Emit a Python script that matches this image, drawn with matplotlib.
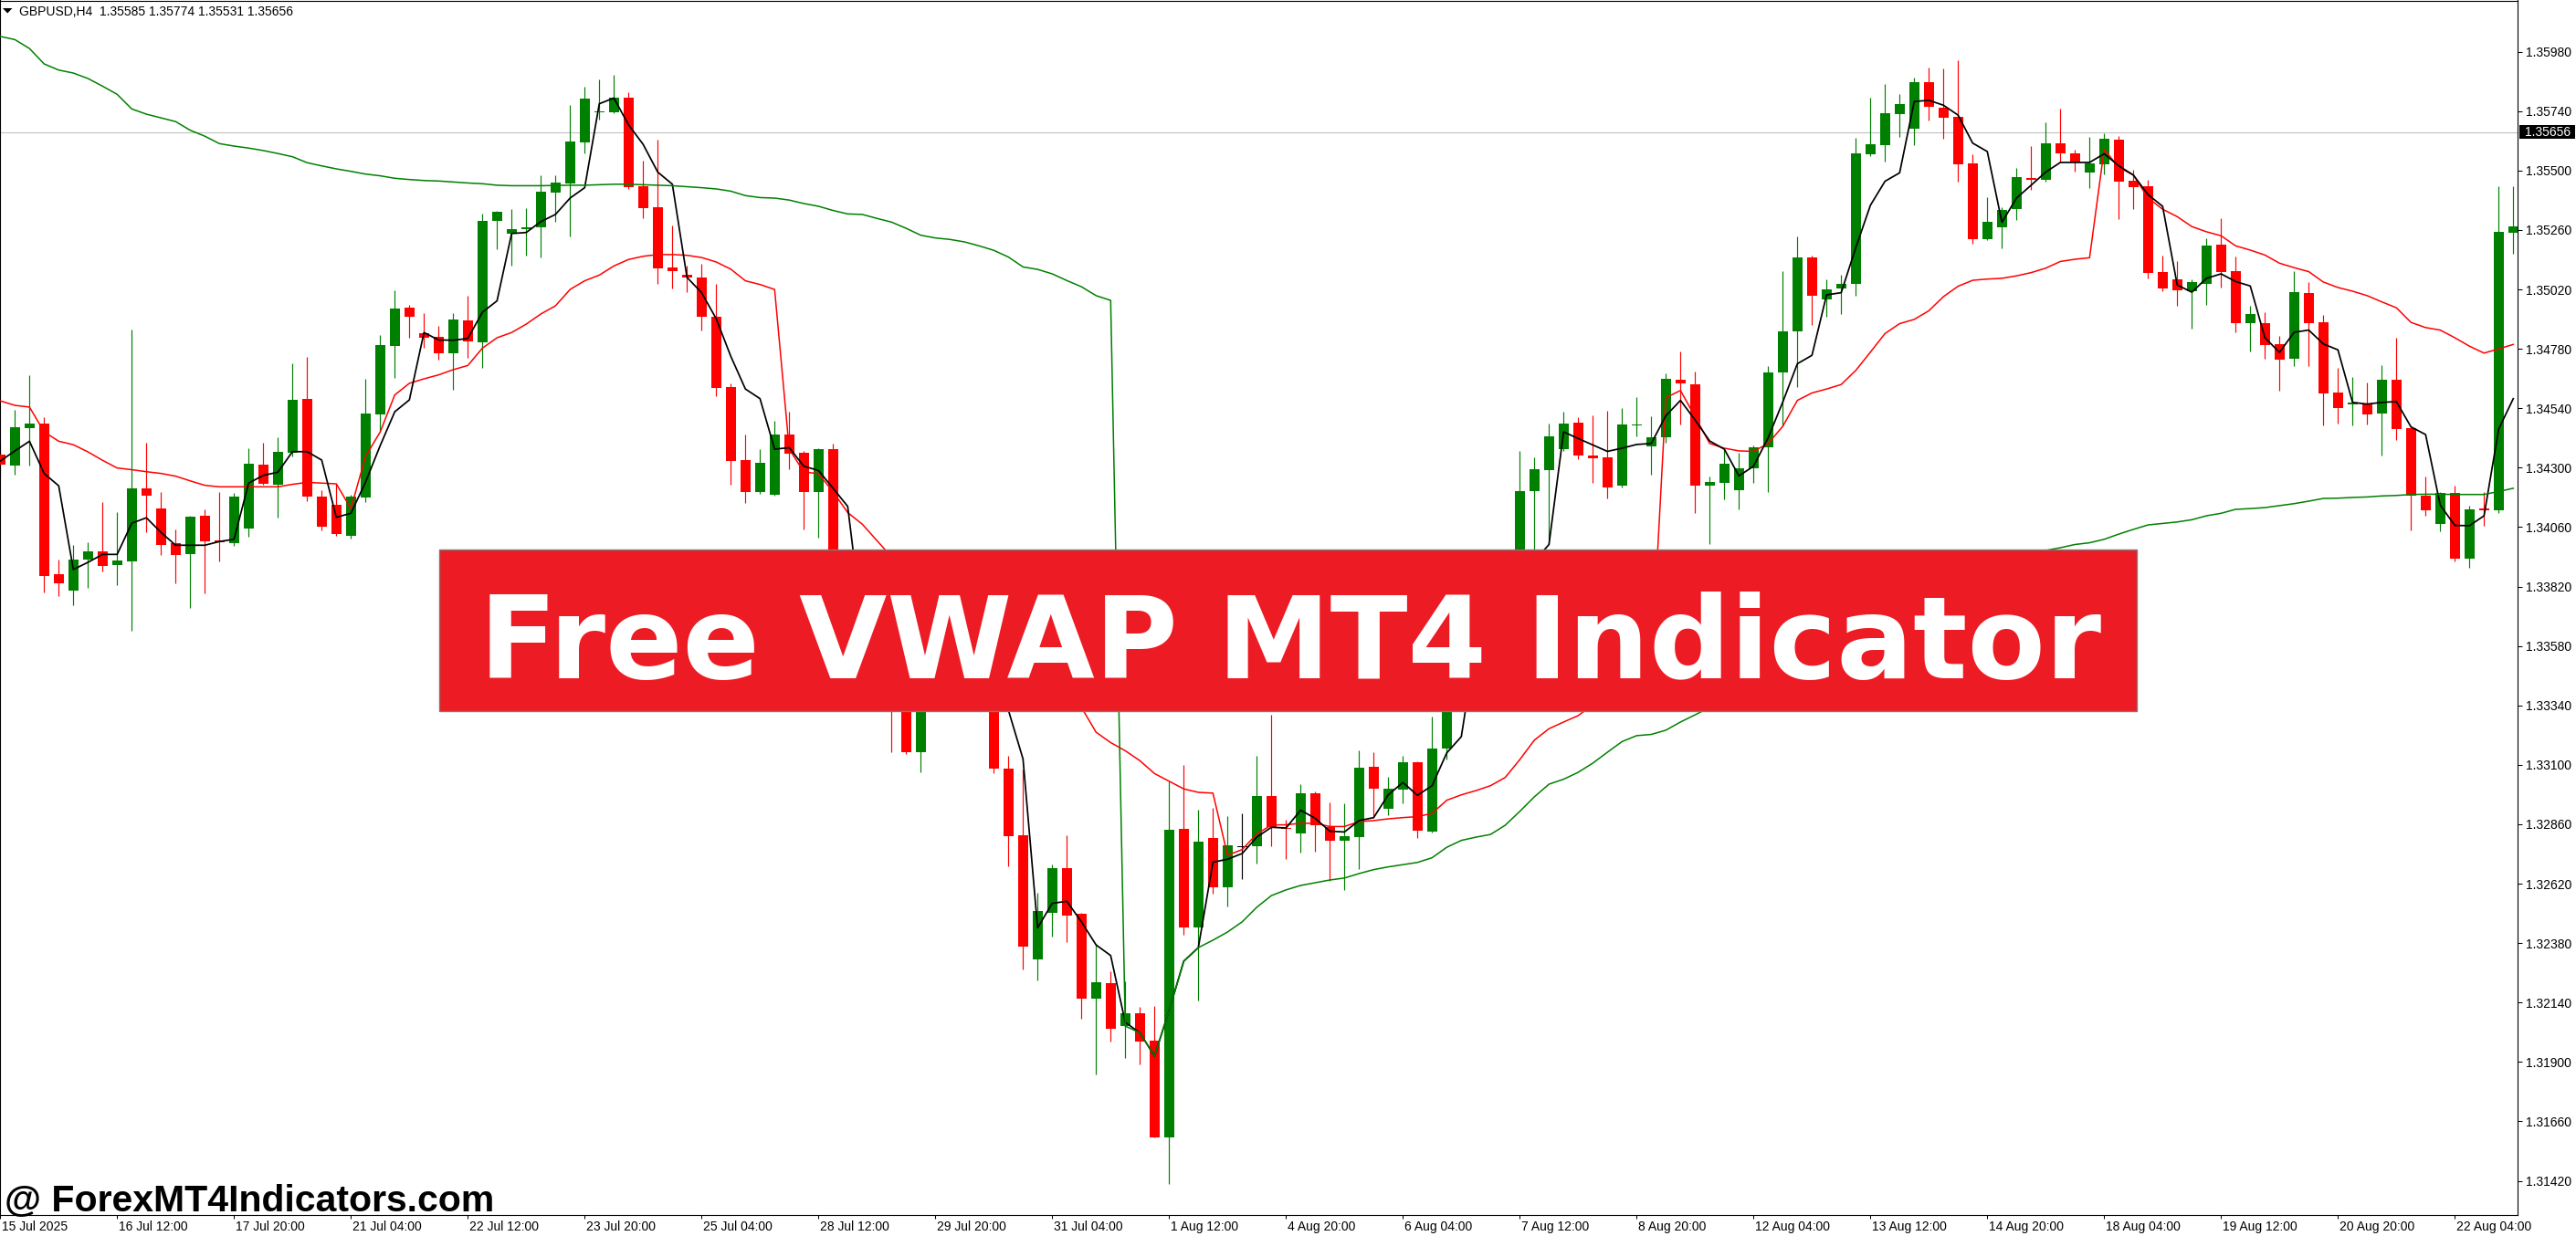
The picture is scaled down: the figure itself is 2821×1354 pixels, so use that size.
import matplotlib
matplotlib.use("Agg")
import matplotlib.pyplot as plt
from matplotlib.patches import Rectangle, Polygon
from matplotlib.transforms import ScaledTranslation, blended_transform_factory
import numpy as np

plt.rcParams['font.family'] = ['Liberation Sans', 'DejaVu Sans']

# ---------------- data (GBPUSD H4) ----------------
opens = [1.34353,1.34309,1.34461,1.34478,1.33870,1.33805,1.33929,1.33962,1.33908,1.33923,
1.34217,1.34136,1.33994,1.33952,1.34106,1.34005,1.33997,1.34056,1.34313,1.34231,
1.34362,1.34578,1.34184,1.34150,1.34026,1.34181,1.34516,1.34793,1.34947,1.34843,
1.34829,1.34763,1.34895,1.34807,1.35295,1.35246,1.35263,1.35270,1.35412,1.35448,
1.35615,1.35736,1.35736,1.35794,1.35437,1.35352,1.35108,1.35078,1.35067,1.34908,
1.34625,1.34330,1.34203,1.34191,1.34434,1.34362,1.34203,1.34375,1.33830,1.33645,
1.33756,1.33535,1.33350,1.33151,1.33387,1.33608,1.33461,1.33369,1.33516,1.33085,
1.32816,1.32316,1.32504,1.32683,1.32498,1.32157,1.32218,1.32047,1.32097,1.31985,
1.31597,1.32842,1.32445,1.32805,1.32606,1.32771,1.32770,1.32974,1.32846,1.32822,
1.32986,1.32849,1.32792,1.32809,1.33092,1.32921,1.33000,1.33111,1.32829,1.33165,
1.33461,1.33645,1.33553,1.33756,1.33866,1.34205,1.34292,1.34377,1.34482,1.34348,
1.34341,1.34226,1.34470,1.34385,1.34422,1.34657,1.34636,1.34227,1.34240,1.34209,
1.34296,1.34381,1.34684,1.34849,1.35149,1.34978,1.35023,1.35044,1.35567,1.35604,
1.35730,1.35670,1.35857,1.35754,1.35718,1.35530,1.35224,1.35270,1.35343,1.35469,
1.35462,1.35610,1.35569,1.35491,1.35525,1.35624,1.35458,1.35437,1.35090,1.35061,
1.35013,1.35044,1.35200,1.35093,1.34884,1.34884,1.34798,1.34741,1.35006,1.34888,
1.34604,1.34557,1.34561,1.34520,1.34655,1.34459,1.34188,1.34073,1.34198,1.33934,
1.34135,1.34127,1.35250]

highs = [1.34394,1.34534,1.34675,1.34505,1.33928,1.33989,1.33999,1.34161,1.34122,1.34858,
1.34401,1.34202,1.34051,1.34105,1.34133,1.34202,1.34198,1.34379,1.34401,1.34423,
1.34722,1.34748,1.34209,1.34235,1.34191,1.34659,1.34836,1.35017,1.34958,1.34925,
1.34873,1.34924,1.34993,1.35327,1.35336,1.35345,1.35349,1.35483,1.35483,1.35764,
1.35839,1.35868,1.35886,1.35816,1.35540,1.35625,1.35277,1.35115,1.35123,1.35042,
1.34641,1.34434,1.34375,1.34491,1.34526,1.34366,1.34379,1.34398,1.33885,1.33811,
1.33793,1.33608,1.33443,1.33461,1.33645,1.33682,1.33516,1.33564,1.33564,1.33137,
1.33082,1.32584,1.32696,1.32816,1.32501,1.32376,1.32265,1.32226,1.32123,1.32126,
1.33032,1.33100,1.32920,1.32926,1.32892,1.32906,1.33137,1.33304,1.32878,1.33023,
1.32992,1.32950,1.32943,1.33157,1.33150,1.33053,1.33137,1.33115,1.33295,1.33516,
1.33701,1.33719,1.33811,1.33922,1.34366,1.34342,1.34480,1.34526,1.34504,1.34510,
1.34530,1.34541,1.34585,1.34508,1.34682,1.34770,1.34688,1.34263,1.34375,1.34362,
1.34390,1.34710,1.35094,1.35233,1.35158,1.35062,1.35078,1.35631,1.35794,1.35850,
1.35810,1.35876,1.35915,1.35913,1.35944,1.35566,1.35392,1.35352,1.35510,1.35599,
1.35695,1.35751,1.35586,1.35636,1.35651,1.35639,1.35503,1.35462,1.35156,1.35135,
1.35061,1.35227,1.35308,1.35152,1.34953,1.34928,1.34831,1.35094,1.35050,1.34917,
1.34702,1.34665,1.34644,1.34714,1.34825,1.34462,1.34264,1.34201,1.34228,1.34147,
1.34201,1.35437,1.35437]

lows = [1.34261,1.34272,1.34309,1.33796,1.33783,1.33746,1.33815,1.33882,1.33827,1.33643,
1.34040,1.33949,1.33834,1.33735,1.33793,1.33922,1.33986,1.34022,1.34232,1.34099,
1.34346,1.34164,1.34048,1.34025,1.34014,1.34163,1.34444,1.34663,1.34825,1.34784,
1.34737,1.34614,1.34744,1.34704,1.35184,1.35118,1.35158,1.35149,1.35294,1.35233,
1.35569,1.35707,1.35733,1.35426,1.35309,1.35044,1.35023,1.35011,1.34855,1.34588,
1.34230,1.34156,1.34193,1.34188,1.34293,1.34052,1.34019,1.33774,1.33564,1.33590,
1.33424,1.33151,1.33144,1.33070,1.33350,1.33417,1.33328,1.33336,1.33065,1.32692,
1.32272,1.32231,1.32406,1.32384,1.32076,1.31850,1.31984,1.31915,1.31889,1.31594,
1.31406,1.32415,1.32150,1.32579,1.32530,1.32637,1.32703,1.32771,1.32720,1.32744,
1.32749,1.32631,1.32595,1.32680,1.32884,1.32897,1.32943,1.32803,1.32825,1.33121,
1.33424,1.33498,1.33516,1.33719,1.33830,1.33903,1.33990,1.34369,1.34336,1.34240,
1.34175,1.34222,1.34425,1.34273,1.34401,1.34475,1.34118,1.33993,1.34171,1.34131,
1.34237,1.34201,1.34467,1.34627,1.34878,1.34908,1.34921,1.34993,1.35560,1.35536,
1.35635,1.35604,1.35701,1.35629,1.35457,1.35204,1.35220,1.35187,1.35302,1.35422,
1.35454,1.35534,1.35495,1.35431,1.35486,1.35304,1.35345,1.35065,1.35013,1.34954,
1.34862,1.34958,1.35028,1.34847,1.34770,1.34741,1.34612,1.34712,1.34711,1.34472,
1.34480,1.34472,1.34475,1.34349,1.34412,1.34047,1.34106,1.34045,1.33923,1.33897,
1.34067,1.34118,1.35165]

closes = [1.34313,1.34464,1.34478,1.33864,1.33834,1.33928,1.33962,1.33903,1.33925,1.34217,
1.34188,1.33989,1.33949,1.34102,1.34004,1.33999,1.34184,1.34316,1.34235,1.34364,
1.34574,1.34185,1.34063,1.34032,1.34184,1.34519,1.34796,1.34943,1.34911,1.34825,
1.34763,1.34899,1.34809,1.35297,1.35333,1.35262,1.35270,1.35415,1.35450,1.35618,
1.35791,1.35740,1.35794,1.35435,1.35350,1.35106,1.35095,1.35070,1.34908,1.34622,
1.34329,1.34203,1.34320,1.34434,1.34358,1.34203,1.34375,1.33830,1.33645,1.33756,
1.33535,1.33350,1.33151,1.33406,1.33608,1.33461,1.33369,1.33516,1.33085,1.32811,
1.32367,1.32510,1.32683,1.32493,1.32157,1.32222,1.32034,1.32097,1.31984,1.31597,
1.32838,1.32445,1.32790,1.32606,1.32775,1.32771,1.32974,1.32848,1.32842,1.32986,
1.32858,1.32792,1.32812,1.33088,1.33005,1.33003,1.33111,1.32834,1.33165,1.33461,
1.33645,1.33553,1.33756,1.33866,1.34207,1.34293,1.34427,1.34477,1.34348,1.34339,
1.34222,1.34475,1.34476,1.34422,1.34659,1.34641,1.34227,1.34243,1.34316,1.34298,
1.34381,1.34684,1.34851,1.35149,1.34996,1.35020,1.35041,1.35570,1.35607,1.35731,
1.35768,1.35857,1.35757,1.35715,1.35527,1.35224,1.35294,1.35340,1.35473,1.35462,
1.35610,1.35569,1.35536,1.35530,1.35627,1.35455,1.35434,1.35087,1.35025,1.35018,
1.35049,1.35197,1.35092,1.34884,1.34921,1.34797,1.34737,1.35009,1.34884,1.34601,
1.34541,1.34564,1.34516,1.34655,1.34456,1.34186,1.34129,1.34198,1.33934,1.34131,
1.34127,1.35253,1.35274]

# daily VWAP (black)
vwap_daily = [1.34327,1.34368,1.34407,1.34277,1.34227,1.33889,1.33918,1.33950,1.33950,1.34076,
1.34098,1.34039,1.33987,1.33987,1.33987,1.34002,1.34011,1.34238,1.34269,1.34282,
1.34365,1.34365,1.34331,1.34100,1.34116,1.34242,1.34389,1.34526,1.34574,1.34846,
1.34816,1.34815,1.34822,1.34928,1.34974,1.35246,1.35250,1.35294,1.35323,1.35389,
1.35431,1.35770,1.35793,1.35685,1.35606,1.35494,1.35445,1.35069,1.35007,1.34902,
1.34750,1.34618,1.34579,1.34375,1.34381,1.34306,1.34289,1.34217,1.34144,1.33664,
1.33608,1.33535,1.33443,1.33424,1.33443,1.33553,1.33479,1.33461,1.33406,1.33321,
1.33124,1.32442,1.32541,1.32549,1.32466,1.32373,1.32330,1.32060,1.32018,1.31924,
1.32108,1.32307,1.32362,1.32707,1.32719,1.32742,1.32808,1.32848,1.32845,1.32917,
1.32884,1.32832,1.32829,1.32875,1.32887,1.32979,1.33029,1.32977,1.33016,1.33148,
1.33214,1.33590,1.33627,1.33701,1.33830,1.33922,1.33990,1.34445,1.34418,1.34392,
1.34366,1.34379,1.34394,1.34398,1.34510,1.34572,1.34493,1.34408,1.34375,1.34267,
1.34306,1.34421,1.34565,1.34720,1.34754,1.34998,1.35007,1.35189,1.35360,1.35457,
1.35491,1.35779,1.35784,1.35764,1.35724,1.35611,1.35577,1.35291,1.35389,1.35441,
1.35494,1.35533,1.35533,1.35533,1.35568,1.35519,1.35482,1.35403,1.35356,1.35038,
1.35009,1.35065,1.35083,1.35052,1.35034,1.34825,1.34766,1.34847,1.34856,1.34800,
1.34776,1.34564,1.34557,1.34564,1.34567,1.34465,1.34434,1.34149,1.34067,1.34066,
1.34106,1.34456,1.34579]

# weekly VWAP (red)
vwap_weekly = [1.34570,1.34552,1.34545,1.34445,1.34407,1.34393,1.34364,1.34330,1.34299,1.34292,
1.34284,1.34277,1.34266,1.34247,1.34229,1.34223,1.34223,1.34223,1.34223,1.34223,
1.34233,1.34241,1.34238,1.34235,1.34135,1.34346,1.34444,1.34594,1.34641,1.34659,
1.34675,1.34696,1.34713,1.34783,1.34825,1.34846,1.34880,1.34921,1.34954,1.35020,
1.35055,1.35078,1.35115,1.35141,1.35154,1.35161,1.35161,1.35158,1.35149,1.35131,
1.35102,1.35055,1.35040,1.35020,1.34375,1.34283,1.34276,1.34203,1.34119,1.34072,
1.34006,1.33940,1.33885,1.33830,1.33774,1.33719,1.33653,1.33590,1.33535,1.33479,
1.33443,1.33417,1.33395,1.33372,1.33332,1.33232,1.33190,1.33157,1.33117,1.33065,
1.33034,1.33003,1.32989,1.32986,1.32735,1.32758,1.32821,1.32857,1.32858,1.32864,
1.32864,1.32851,1.32851,1.32871,1.32875,1.32882,1.32887,1.32891,1.32904,1.32957,
1.32979,1.32996,1.33016,1.33049,1.33121,1.33200,1.33246,1.33273,1.33299,1.33343,
1.33380,1.33417,1.33454,1.33479,1.34583,1.34612,1.34506,1.34398,1.34379,1.34368,
1.34366,1.34398,1.34467,1.34572,1.34602,1.34618,1.34636,1.34693,1.34767,1.34842,
1.34882,1.34899,1.34934,1.34991,1.35033,1.35057,1.35062,1.35065,1.35075,1.35088,
1.35106,1.35133,1.35142,1.35148,1.35586,1.35513,1.35482,1.35390,1.35344,1.35314,
1.35274,1.35253,1.35237,1.35196,1.35179,1.35159,1.35126,1.35108,1.35092,1.35050,
1.35028,1.35013,1.34995,1.34970,1.34946,1.34887,1.34866,1.34856,1.34825,1.34791,
1.34763,1.34780,1.34798]

# monthly VWAP (green)
vwap_monthly = [1.36042,1.36029,1.35993,1.35931,1.35906,1.35894,1.35872,1.35841,1.35808,1.35749,
1.35728,1.35713,1.35698,1.35663,1.35639,1.35609,1.35599,1.35591,1.35581,1.35569,
1.35556,1.35532,1.35519,1.35507,1.35497,1.35486,1.35479,1.35469,1.35464,1.35460,
1.35458,1.35454,1.35450,1.35447,1.35441,1.35439,1.35439,1.35439,1.35440,1.35441,
1.35441,1.35443,1.35445,1.35445,1.35443,1.35441,1.35439,1.35435,1.35431,1.35426,
1.35417,1.35399,1.35391,1.35389,1.35381,1.35367,1.35356,1.35339,1.35325,1.35323,
1.35307,1.35292,1.35267,1.35239,1.35228,1.35222,1.35212,1.35196,1.35178,1.35151,
1.35111,1.35101,1.35083,1.35056,1.35031,1.34995,1.34976,1.32045,1.32018,1.31924,
1.32108,1.32307,1.32362,1.32392,1.32425,1.32466,1.32525,1.32572,1.32595,1.32613,
1.32624,1.32635,1.32643,1.32661,1.32677,1.32688,1.32697,1.32706,1.32725,1.32767,
1.32795,1.32808,1.32819,1.32856,1.32912,1.32971,1.33022,1.33042,1.33070,1.33107,
1.33151,1.33194,1.33218,1.33223,1.33240,1.33273,1.33302,1.33332,1.33358,1.33380,
1.33398,1.33424,1.33454,1.33487,1.33516,1.33542,1.33564,1.33597,1.33634,1.33671,
1.33708,1.33745,1.33774,1.33804,1.33837,1.33866,1.33885,1.33903,1.33925,1.33948,
1.33966,1.33977,1.33990,1.33997,1.34011,1.34032,1.34051,1.34069,1.34075,1.34081,
1.34090,1.34106,1.34116,1.34132,1.34135,1.34139,1.34147,1.34155,1.34165,1.34176,
1.34177,1.34180,1.34182,1.34186,1.34188,1.34192,1.34193,1.34193,1.34192,1.34192,
1.34192,1.34204,1.34217]

price_labels = ["1.31420","1.31660","1.31900","1.32140","1.32380","1.32620","1.32860",
                "1.33100","1.33340","1.33580","1.33820","1.34060","1.34300","1.34540",
                "1.34780","1.35020","1.35260","1.35500","1.35740","1.35980"]
time_label_bars = [0, 8, 16, 24, 32, 40, 48, 56, 64, 72, 80, 88, 96, 104, 112, 120,
                   128, 136, 144, 152, 160, 168]
time_labels = ["15 Jul 2025","16 Jul 12:00","17 Jul 20:00","21 Jul 04:00","22 Jul 12:00",
               "23 Jul 20:00","25 Jul 04:00","28 Jul 12:00","29 Jul 20:00","31 Jul 04:00",
               "1 Aug 12:00","4 Aug 20:00","6 Aug 04:00","7 Aug 12:00","8 Aug 20:00",
               "12 Aug 04:00","13 Aug 12:00","14 Aug 20:00","18 Aug 04:00","19 Aug 12:00",
               "20 Aug 20:00","22 Aug 04:00"]
current_price = 1.35656
header = "GBPUSD,H4  1.35585 1.35774 1.35531 1.35656"
banner_text = "Free VWAP MT4 Indicator"
watermark = "@ ForexMT4Indicators.com"

# ---------------- figure ----------------
W, H = 2821, 1354
fig = plt.figure(figsize=(W / 100, H / 100), dpi=100)
fig.patch.set_facecolor("white")

def fx(px):
    return px / W

def fy(py):
    return 1 - py / H

ax = fig.add_axes([0, fy(1331), fx(2757.3), (1331 - 0.5) / H])
ax.set_facecolor("white")

o = np.array(opens); h = np.array(highs); l = np.array(lows); c = np.array(closes)
x = np.arange(len(o))
GREEN = "#008000"
RED = "#FF0000"
cols = [GREEN if cc > oo else (RED if cc < oo else "#000000") for oo, cc in zip(o, c)]

ax.axhline(current_price, color="#C0C0C0", lw=0.8, zorder=1)

ax.vlines(x, l, h, colors=cols, lw=0.85, zorder=2)
lo = np.minimum(o, c); hi = np.maximum(o, c)
minh = 0.00004
bh = np.maximum(hi - lo, minh)
bb = (lo + hi) / 2 - bh / 2
ax.bar(x, bh, bottom=bb, width=0.69, color=cols, linewidth=0, zorder=3)

ax.plot(x, vwap_weekly, color=RED, lw=1.1, zorder=4)
ax.plot(x, vwap_daily, color="black", lw=1.25, zorder=5)
ax.plot(x, vwap_monthly, color=GREEN, lw=1.1, zorder=6)

ax.set_xlim(-0.3 / 16, (2757.3 - 0.3) / 16)
ax.set_ylim(1.36189 - 1331 / 27125, 1.36189 - 0.5 / 27125)

ax.yaxis.tick_right()
ax.set_yticks([float(s) for s in price_labels])
ax.set_yticklabels(price_labels)
ax.tick_params(axis="y", direction="out", length=3.5, width=0.75, pad=2.5,
               labelsize=10, colors="black")

ax.set_xticks(time_label_bars)
ax.set_xticklabels(time_labels, ha="left")
ax.tick_params(axis="x", direction="out", length=3, width=0.75, pad=1.5,
               labelsize=10, colors="black")
off = ScaledTranslation(2 / 100, 0, fig.dpi_scale_trans)
for lab in ax.get_xticklabels():
    lab.set_transform(lab.get_transform() + off)

for sp in ax.spines.values():
    sp.set_color("black")
    sp.set_linewidth(0.8)

# current price tag on the price axis
bt = blended_transform_factory(fig.transFigure, ax.transData)
half = 7.6 / 27125
ax.add_artist(Rectangle((fx(2759), current_price - half), fx(2820) - fx(2759), 2 * half,
                        transform=bt, facecolor="black", edgecolor="none",
                        clip_on=False, zorder=10))
ax.text(fx(2765), current_price, f"{current_price:.5f}", transform=bt, color="white",
        fontsize=10, ha="left", va="center", clip_on=False, zorder=11)

# header
fig.add_artist(Polygon([(fx(3), fy(9)), (fx(13.5), fy(9)), (fx(8.2), fy(14.5))],
                       closed=True, transform=fig.transFigure, facecolor="black",
                       edgecolor="none", zorder=12))
fig.text(fx(21), fy(17.3), header, fontsize=10, color="black", va="baseline", ha="left",
         zorder=12)

# banner
fig.add_artist(Rectangle((fx(481), fy(778.6)), fx(2340) - fx(481), (778.6 - 601.7) / H,
                         transform=fig.transFigure, facecolor="#ED1C24",
                         edgecolor="#7A7A7A", lw=1.0, zorder=20))
fig.text(fx(1413), fy(743), banner_text, ha="center", va="baseline", color="white",
         fontsize=89.5, fontweight="bold", family="DejaVu Sans", zorder=21)

# watermark
fig.text(fx(5), fy(1327), watermark, ha="left", va="baseline", color="black",
         fontsize=29.5, fontweight="bold", family="Liberation Sans", zorder=21)

fig.savefig("out.png", dpi=100, facecolor="white")
